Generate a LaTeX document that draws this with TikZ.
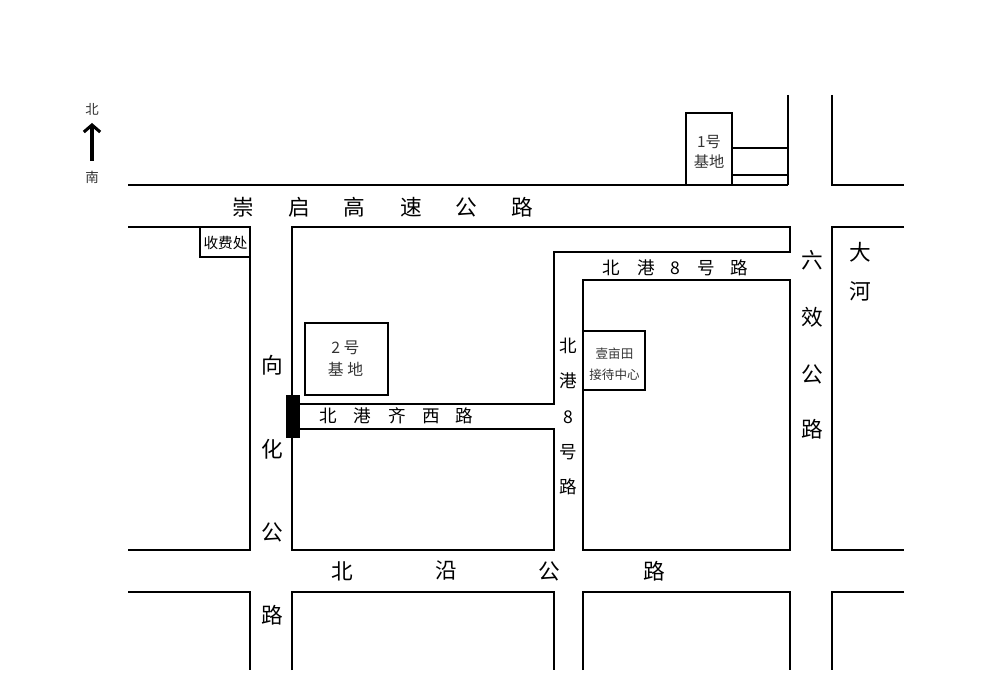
\documentclass[tikz,border=0pt]{standalone}
\usepackage{fontspec}
\usetikzlibrary{arrows.meta}
\setmainfont{Noto Sans CJK SC}
\tikzset{
  road/.style={line width=1.8pt,line join=miter},
  roadname/.style={inner sep=0pt,font=\fontsize{18.5}{20}\selectfont},
  smallname/.style={inner sep=0pt,font=\fontsize{15}{16}\selectfont},
  compass/.style={inner sep=0pt,text=black!80,font=\fontsize{11.5}{12}\selectfont},
  plotbox/.style={draw,line width=1.8pt,inner sep=0pt},
  plottext/.style={inner sep=0pt,align=center,text=black!80},
}
\begin{document}
\begin{tikzpicture}[x=0.03cm,y=-0.03cm]
\useasboundingbox (0,0) rectangle (995,677);

% north arrow
\node[compass] (north) at (92,109) {北};
\node[compass] (south) at (92,177) {南};
\draw[line width=2.6pt,-{Straight Barb[length=6pt,width=14pt]}] (92,161) -- (92,123);

% roads
\draw[road] (128,185) -- (788,185);
\draw[road] (788,95) -- (788,185);
\draw[road] (732,148) -- (788,148);
\draw[road] (732,175) -- (788,175);
\draw[road] (832,95) -- (832,185) -- (904,185);
\draw[road] (128,227) -- (250,227) -- (250,550) -- (128,550);
\draw[road] (292,396) -- (292,227) -- (790,227) -- (790,252) -- (554,252) -- (554,404) -- (300,404);
\draw[road] (300,429) -- (554,429) -- (554,550) -- (292,550) -- (292,438);
\draw[road] (583,280) rectangle (790,550);
\draw[road] (904,227) -- (832,227) -- (832,550) -- (904,550);
\draw[road] (128,592) -- (250,592) -- (250,670);
\draw[road] (292,670) -- (292,592) -- (554,592) -- (554,670);
\draw[road] (583,670) -- (583,592) -- (790,592) -- (790,670);
\draw[road] (904,592) -- (832,592) -- (832,670);

% gate
\fill (286,395) rectangle (300,438);

% plots
\node[plotbox,minimum width=1.38cm,minimum height=2.16cm] (base1) at (709,149) {};
\node[plottext,font=\fontsize{13}{16.5}\selectfont] (base1text) at (709,152) {1号\\基地};
\node[plotbox,minimum width=2.49cm,minimum height=2.16cm] (base2) at (346.5,359) {};
\node[plottext,font=\fontsize{13.5}{19}\selectfont] (base2text) at (345.5,359) {2 号\\基 地};
\node[plotbox,minimum width=1.5cm,minimum height=0.9cm] (toll) at (225,242) {};
\node[plottext,text=black,font=\fontsize{12.5}{13}\selectfont] (tolltext) at (225.5,243) {收费处};
\node[plotbox,minimum width=1.86cm,minimum height=1.77cm] (center) at (614,360.5) {};
\node[plottext,font=\fontsize{10.7}{18}\selectfont] (centertext) at (614.5,364) {壹亩田\\接待中心};

% road names
\foreach \x/\t in {243/崇,299/启,354/高,411/速,466/公,522/路}
  \node[roadname] (top\x) at (\x,207) {\t};
\foreach \x/\t in {342/北,446/沿,549/公,654/路}
  \node[roadname] (low\x) at (\x,571) {\t};
\foreach \y/\t in {365/向,449/化,532/公,615/路}
  \node[roadname] (west\y) at (272,\y) {\t};
\foreach \y/\t in {260/六,317/效,374/公,429/路}
  \node[roadname] (east\y) at (812,\y) {\t};
\foreach \y/\t in {252/大,291/河}
  \node[roadname] (river\y) at (860,\y) {\t};
\foreach \x/\t in {611/北,646/港,675/8,706/号,739/路}
  \node[smallname] (gang\x) at (\x,268) {\t};
\foreach \y/\t in {346/北,381/港,417/8,452/号,487/路}
  \node[smallname] (side\y) at (568,\y) {\t};
\foreach \x/\t in {328/北,362/港,397/齐,431/西,464/路}
  \node[smallname] (qi\x) at (\x,416) {\t};
\end{tikzpicture}
\end{document}
